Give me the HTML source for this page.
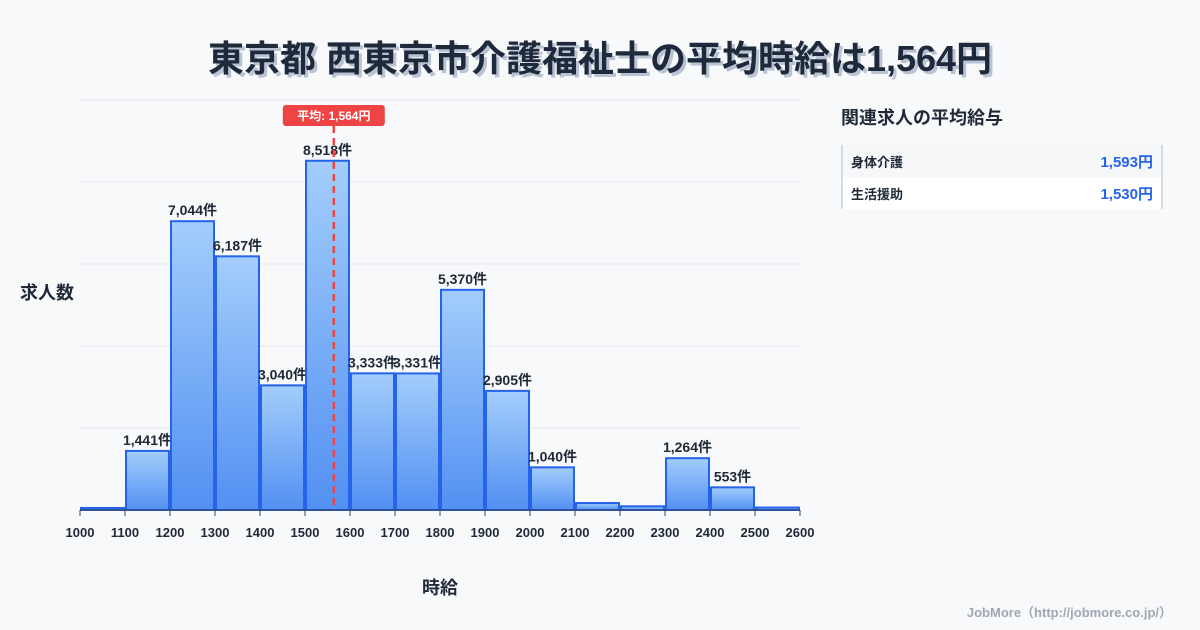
<!DOCTYPE html>
<html><head><meta charset="utf-8">
<style>
body{margin:0;width:1200px;height:630px;background:#f8f9fb;font-family:"Liberation Sans","Noto Sans CJK JP",sans-serif;overflow:hidden;position:relative;color:#1f2937}
.title{position:absolute;top:30px;left:0;width:1200px;text-align:center;font-size:36px;font-weight:bold;color:#1e293b;text-shadow:3px 3px 0 #b9c3d3}
.panel-title{position:absolute;left:841px;top:104px;font-size:18px;font-weight:bold;color:#1f2937}
.panel{position:absolute;left:841px;top:145px;width:318px;border-left:2px solid #d5dbe5;border-right:2px solid #d5dbe5}
.row{height:32px;display:flex;justify-content:space-between;align-items:center;padding:0 8px 0 8px;font-size:13px;font-weight:bold}
.row span:last-child{color:#2563eb;font-size:15px}
.foot{position:absolute;right:28px;top:602px;font-size:13px;font-weight:bold;color:#a0a7b3}
</style></head><body>
<div class="title">東京都 西東京市介護福祉士の平均時給は1,564円</div>
<div class="panel-title">関連求人の平均給与</div>
<div class="panel">
<div class="row" style="background:#f6f7f9"><span>身体介護</span><span>1,593円</span></div>
<div class="row" style="background:#fff"><span>生活援助</span><span>1,530円</span></div>
</div>
<div class="foot">JobMore（http://jobmore.co.jp/）</div>
<svg id="chart" width="1200" height="630" style="position:absolute;left:0;top:0">
<defs><linearGradient id="g" x1="0" y1="0" x2="0" y2="1"><stop offset="0" stop-color="#a3cdfb"/><stop offset="1" stop-color="#5290f2"/></linearGradient></defs>
</svg>
<script>
const binStarts=[1000,1100,1200,1300,1400,1500,1600,1700,1800,1900,2000,2100,2200,2300,2400,2500];
const counts=[50,1441,7044,6187,3040,8518,3333,3331,5370,2905,1040,170,90,1264,553,60];
const labels=["","1,441件","7,044件","6,187件","3,040件","8,518件","3,333件","3,331件","5,370件","2,905件","1,040件","","","1,264件","553件",""];
const xTicks=[1000,1100,1200,1300,1400,1500,1600,1700,1800,1900,2000,2100,2200,2300,2400,2500,2600];
const meanVal=1564;
const yMax=10000, yGrid=[2000,4000,6000,8000,10000];
const X0=80,X1=800,Y0=510,Y1=100;
const x=v=>X0+(v-1000)/(2600-1000)*(X1-X0);
const y=v=>Y0-v/yMax*(Y0-Y1);
const svg=document.getElementById('chart');
const NS='http://www.w3.org/2000/svg';
function mk(t,a,txt){const e=document.createElementNS(NS,t);for(const k in a)e.setAttribute(k,a[k]);if(txt!=null)e.textContent=txt;svg.appendChild(e);return e;}
yGrid.forEach(v=>{const e=mk('line',{x1:X0,x2:X1,y1:y(v),y2:y(v),stroke:'#e5e7eb','stroke-width':1});

});
counts.forEach((c,i)=>{const xa=x(binStarts[i]),xb=x(binStarts[i]+100);
const r=mk('rect',{x:xa+1,y:y(c),width:xb-xa-2,height:Y0-y(c),fill:'url(#g)',stroke:'#2563eb','stroke-width':2});


if(labels[i]){const t=mk('text',{x:(xa+xb)/2,y:y(c)-6,'text-anchor':'middle','font-size':14,'font-weight':'bold',fill:'#1f2937'},labels[i]);

}});
const ax=mk('line',{x1:X0,x2:X1,y1:Y0,y2:Y0,stroke:'#374151','stroke-width':1});


xTicks.forEach(v=>{const l=mk('line',{x1:x(v),x2:x(v),y1:Y0,y2:Y0+6,stroke:'#374151'});


const t=mk('text',{x:x(v),y:Y0+27,'text-anchor':'middle','font-size':13,'font-weight':'bold',fill:'#1f2937'},v);

});
const mx=x(meanVal);
const ml=mk('line',{x1:mx,x2:mx,y1:126,y2:Y0,stroke:'#ef4444','stroke-width':2.5,'stroke-dasharray':'7,5'});


const mb=mk('rect',{x:mx-51,y:105,width:102,height:21,rx:3,fill:'#ef4444'});


const mt=mk('text',{x:mx,y:120,'text-anchor':'middle','font-size':12,'font-weight':'bold',fill:'#fff'},'平均: 1,564円');


const yt=mk('text',{x:20,y:299,'font-size':18,'font-weight':'bold',fill:'#1f2937'},'求人数');


const xt=mk('text',{x:440,y:594,'text-anchor':'middle','font-size':18,'font-weight':'bold',fill:'#1f2937'},'時給');


</script>
</body></html>
